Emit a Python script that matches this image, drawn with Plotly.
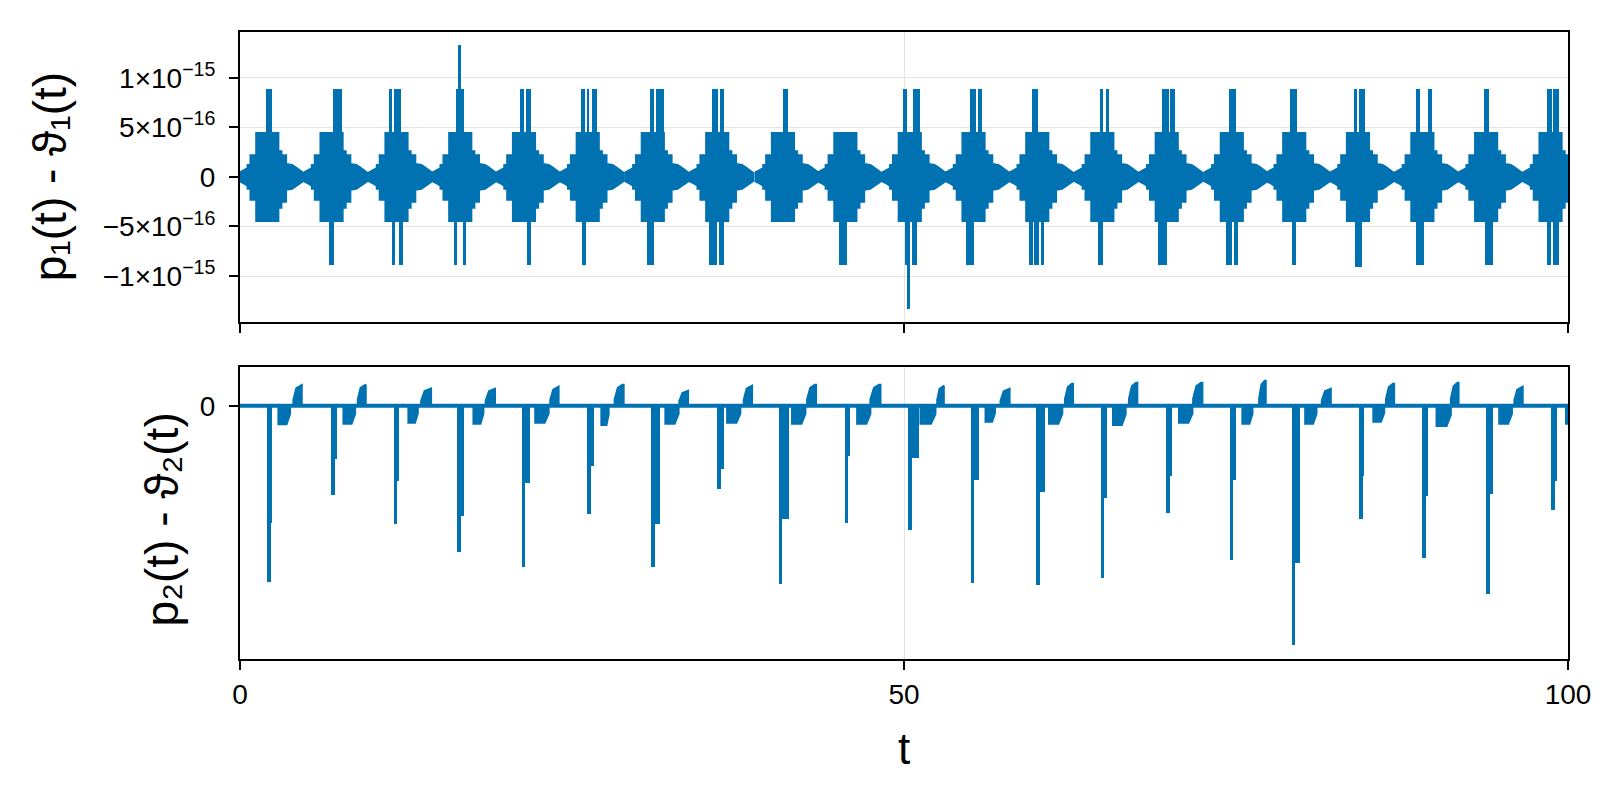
import plotly.graph_objects as go

BLUE = "#0072B2"
SCALE1 = 1e-16   # top panel values are given in units of 1e-16

# ---------------- top panel: p1(t) - theta1(t) ----------------
# centres of the oscillation bursts (t)
burst_centers = [2.07, 6.91, 11.8, 16.6, 21.4, 26.2, 31.1, 35.95, 40.9, 45.6, 50.45,
                 55.25, 60.05, 64.95, 69.8, 74.7, 79.4, 84.2, 89.05, 93.85, 98.7]
# envelope of one burst (offset in t, upper / lower value)
profile_dt = [-2.15, -1.65, -1.5, -1.5, -1.28, -1.28, -0.85, -0.85, 0.82, 0.82,
              1.05, 1.05, 1.4, 1.4, 1.85, 2.1, 2.7]
profile_hi = [0.4, 0.85, 0.9, 1.2, 1.2, 2.2, 2.2, 4.44, 4.44, 2.6,
              2.6, 2.2, 2.2, 1.3, 1.2, 1.0, 0.4]
profile_lo = [-0.4, -0.75, -0.9, -1.2, -1.2, -2.3, -2.3, -4.44, -4.44, -3.1,
              -3.1, -2.5, -2.5, -1.3, -1.2, -1.0, -0.4]
# isolated spikes: start t, end t, value
spike1_t0 = [1.94, 6.98, 6.71, 11.25, 11.63, 11.43, 11.98, 16.28, 16.42, 16.08, 16.78,
             21.05, 21.55, 21.63, 25.7, 26.1, 26.5, 25.75, 30.85, 31.35, 30.65,
             35.55, 36.12, 35.3, 36.05, 40.9, 45.1, 49.9, 50.7, 50.07, 50.6, 50.2,
             55.0, 55.6, 54.7, 59.66, 59.4, 59.78, 60.28, 64.76, 65.18, 64.63,
             69.46, 70.03, 69.13, 74.48, 74.23, 74.85, 79.07, 79.25,
             83.85, 84.23, 83.97, 88.55, 89.43, 88.55, 93.69, 93.77,
             98.4, 98.9, 98.4, 98.85]
spike1_t1 = [2.39, 7.66, 7.08, 11.48, 12.13, 11.68, 12.26, 16.9, 16.64, 16.33, 17.03,
             21.38, 21.93, 21.93, 26.0, 26.3, 26.85, 26.05, 31.2, 31.9, 31.15,
             35.97, 36.48, 35.95, 36.42, 41.3, 45.7, 50.2, 51.2, 50.37, 51.0, 50.45,
             55.4, 55.85, 55.3, 60.1, 59.7, 60.16, 60.54, 65.0, 65.43, 64.98,
             69.95, 70.4, 69.83, 74.98, 74.68, 75.18, 79.62, 79.55,
             84.1, 84.7, 84.47, 88.85, 89.73, 89.18, 94.02, 94.32,
             98.8, 99.35, 98.75, 99.35]
spike1_val = [8.88, 8.88, -8.88, 8.88, 8.88, -8.88, -8.88, 8.88, 13.3, -8.88, -8.88,
              8.88, 8.88, -8.88, 8.88, 8.88, 8.88, -8.88, 8.88, 8.88, -8.88,
              8.88, 8.88, -8.88, -8.88, 8.88, -8.88, 8.88, 8.88, -8.88, -8.88, -13.3,
              8.88, 8.88, -8.88, 8.88, -8.88, -8.88, -8.88, 8.88, 8.88, -8.88,
              8.88, 8.88, -8.88, 8.88, -8.88, -8.88, 8.88, -8.88,
              8.88, 8.88, -9.1, 8.88, 8.88, -8.88, 8.88, -8.88,
              8.88, 8.88, -8.88, -8.88]

# ---------------- bottom panel: p2(t) - theta2(t) ----------------
t_span = [0, 100]
# deep negative spikes: start t, end t, full depth, shoulder depth
spike2_t0 = [2.06, 6.86, 11.56, 16.33, 21.2, 26.12, 30.97, 35.92, 40.57, 45.54, 50.32,
             55.01, 59.96, 64.81, 69.76, 74.53, 79.2, 84.28, 89.0, 93.82, 98.72]
spike2_t1 = [2.4, 7.29, 11.98, 16.9, 21.85, 26.62, 31.65, 36.42, 41.32, 45.97, 51.12,
             55.64, 60.61, 65.31, 70.16, 75.03, 79.81, 84.65, 89.43, 94.32, 99.15]
spike2_depth = [-17.6, -8.9, -11.8, -14.6, -16.1, -10.8, -16.1, -8.3, -17.8, -11.7, -12.4,
                -17.7, -17.9, -17.2, -10.7, -15.4, -23.9, -11.3, -15.2, -18.8, -10.4]
spike2_shoulder = [-11.7, -5.3, -7.5, -11.0, -7.7, -6.0, -11.8, -6.3, -11.3, -5.0, -5.2,
                   -7.4, -8.6, -9.2, -7.0, -7.4, -15.7, -7.0, -9.0, -8.8, -7.5]
# shallow negative plateaus
dip_t0 = [2.89, 7.79, 12.68, 17.58, 22.23, 27.21, 32.03, 36.68, 41.57, 46.47, 51.24,
          56.14, 60.92, 65.74, 70.71, 75.48, 80.21, 85.34, 90.1, 94.82, 99.85]
dip_t1 = [3.77, 8.67, 13.39, 18.33, 23.24, 27.76, 33.03, 37.68, 42.58, 47.47, 52.37,
          56.85, 61.92, 66.69, 71.72, 76.24, 81.06, 86.16, 91.18, 95.78, 100.0]
dip_depth = [-1.83, -1.8, -1.7, -1.8, -1.7, -1.9, -1.8, -1.7, -1.8, -1.8, -1.8,
             -1.6, -1.8, -1.9, -1.7, -1.8, -1.8, -1.6, -2.0, -1.8, -1.8]
# small positive bumps
bump_t0 = [4.02, 8.87, 13.64, 18.5, 23.36, 28.21, 33.08, 37.93, 42.7, 47.47,
           52.5, 57.27, 62.12, 66.94, 71.77, 76.74, 81.46, 86.29, 91.18, 95.96]
bump_t1 = [4.65, 9.47, 14.39, 19.2, 23.99, 28.89, 33.74, 38.56, 43.38, 48.23,
           53.0, 57.95, 62.73, 67.57, 72.47, 77.24, 82.14, 86.91, 91.76, 96.59]
bump_h = [2.07, 2.1, 1.73, 1.7, 1.9, 2.1, 1.5, 2.0, 2.1, 2.1,
          2.0, 1.7, 2.2, 2.3, 2.3, 2.5, 1.7, 2.2, 2.3, 1.9]

x_ticks = [0, 50, 100]
y1_ticks = [-1e-15, -5e-16, 0, 5e-16, 1e-15]
y1_ticktext = ["\u22121\u00d710<sup>\u221215</sup>", "\u22125\u00d710<sup>\u221216</sup>", "0",
               "5\u00d710<sup>\u221216</sup>", "1\u00d710<sup>\u221215</sup>"]
y2_ticks = [0]
y2_ticktext = ["0"]

# ---------------- build figure ----------------
fig = go.Figure()

# top band: one closed polygon per burst
bx, by = [], []
for c in burst_centers:
    xs = [c + d for d in profile_dt]
    bx += xs + xs[::-1] + [None]
    by += [v * SCALE1 for v in profile_hi] + [v * SCALE1 for v in profile_lo[::-1]] + [None]
fig.add_trace(go.Scatter(x=bx, y=by, mode="lines", fill="toself", fillcolor=BLUE,
                         line=dict(color=BLUE, width=2), xaxis="x", yaxis="y",
                         hoverinfo="skip", showlegend=False))
fig.add_trace(go.Bar(x=[(a + b) / 2 for a, b in zip(spike1_t0, spike1_t1)],
                     width=[b - a for a, b in zip(spike1_t0, spike1_t1)],
                     y=[v * SCALE1 for v in spike1_val], base=0,
                     marker=dict(color=BLUE, line=dict(width=0)),
                     xaxis="x", yaxis="y", showlegend=False))

# bottom: zero line
fig.add_trace(go.Scatter(x=t_span, y=[0, 0], mode="lines", line=dict(color=BLUE, width=4),
                         xaxis="x2", yaxis="y2", showlegend=False))
# dips and bumps as filled shapes
px_, py_ = [], []
for a, b, d in zip(dip_t0, dip_t1, dip_depth):
    w = b - a
    px_ += [a, a, b - 0.3 * w, b, b, None]
    py_ += [0, d, d, 0.45 * d, 0, None]
for a, b, h in zip(bump_t0, bump_t1, bump_h):
    w = b - a
    px_ += [a, a, a + 0.35 * w, a + 0.85 * w, b, b, None]
    py_ += [0, 0.3 * h, 0.85 * h, h, h, 0, None]
fig.add_trace(go.Scatter(x=px_, y=py_, mode="lines", fill="toself", fillcolor=BLUE,
                         line=dict(color=BLUE, width=2), xaxis="x2", yaxis="y2",
                         hoverinfo="skip", showlegend=False))
# spikes: wide shoulder + narrow deep part
fig.add_trace(go.Bar(x=[(a + b) / 2 for a, b in zip(spike2_t0, spike2_t1)],
                     width=[b - a for a, b in zip(spike2_t0, spike2_t1)],
                     y=spike2_shoulder, base=0,
                     marker=dict(color=BLUE, line=dict(width=0)),
                     xaxis="x2", yaxis="y2", showlegend=False))
fig.add_trace(go.Bar(x=[a + 0.14 for a in spike2_t0], width=[0.28] * len(spike2_t0),
                     y=spike2_depth, base=0,
                     marker=dict(color=BLUE, line=dict(width=0)),
                     xaxis="x2", yaxis="y2", showlegend=False))

# ranges with 5 % padding (like the original)
top_vals = [v * SCALE1 for v in profile_hi + profile_lo + spike1_val]
lo1, hi1 = min(top_vals), max(top_vals)
pad1 = 0.05 * (hi1 - lo1)
bot_vals = spike2_depth + dip_depth + bump_h
lo2, hi2 = min(bot_vals), max(bot_vals)
pad2 = 0.05 * (hi2 - lo2)

FONT = "Liberation Sans, Arial, sans-serif"
GRID = "#e4e4e4"
axis_common = dict(showline=True, linecolor="black", linewidth=2, mirror=True,
                   ticks="outside", ticklen=9, tickwidth=1.5, tickcolor="black",
                   showgrid=True, gridcolor=GRID, gridwidth=1.2, zeroline=False,
                   tickfont=dict(family=FONT, size=28, color="black"))

# the page body has an 8 px margin, so the figure is offset by 8 px
fig.update_layout(
    width=1600, height=800,
    margin=dict(l=232, r=40, t=24, b=149),
    plot_bgcolor="white", paper_bgcolor="white",
    barmode="overlay", bargap=0,
    showlegend=False,
    xaxis=dict(domain=[0, 1], range=[0, 100], tickvals=x_ticks, showticklabels=False,
               anchor="y", **axis_common),
    yaxis=dict(domain=[0.5377, 1], range=[lo1 - pad1, hi1 + pad1], tickvals=y1_ticks,
               ticktext=y1_ticktext, anchor="x", ticklabelstandoff=8, **axis_common),
    xaxis2=dict(domain=[0, 1], range=[0, 100], tickvals=x_ticks, anchor="y2",
                matches="x", **axis_common),
    yaxis2=dict(domain=[0, 0.465], range=[lo2 - pad2, hi2 + pad2], tickvals=y2_ticks,
                ticktext=y2_ticktext, anchor="x2", ticklabelstandoff=8, **axis_common),
    annotations=[
        dict(text="p\u2081(t) - \u03d1\u2081(t)", x=-0.143, y=0.770, xref="paper", yref="paper",
             textangle=-90, showarrow=False, xanchor="center", yanchor="middle",
             font=dict(family=FONT, size=46, color="black")),
        dict(text="p\u2082(t) - \u03d1\u2082(t)", x=-0.059, y=0.222, xref="paper", yref="paper",
             textangle=-90, showarrow=False, xanchor="center", yanchor="middle",
             font=dict(family=FONT, size=46, color="black")),
        dict(text="t", x=0.5, y=-0.142, xref="paper", yref="paper", showarrow=False,
             xanchor="center", yanchor="middle",
             font=dict(family=FONT, size=44, color="black")),
    ],
)

fig.write_html("out.html")
